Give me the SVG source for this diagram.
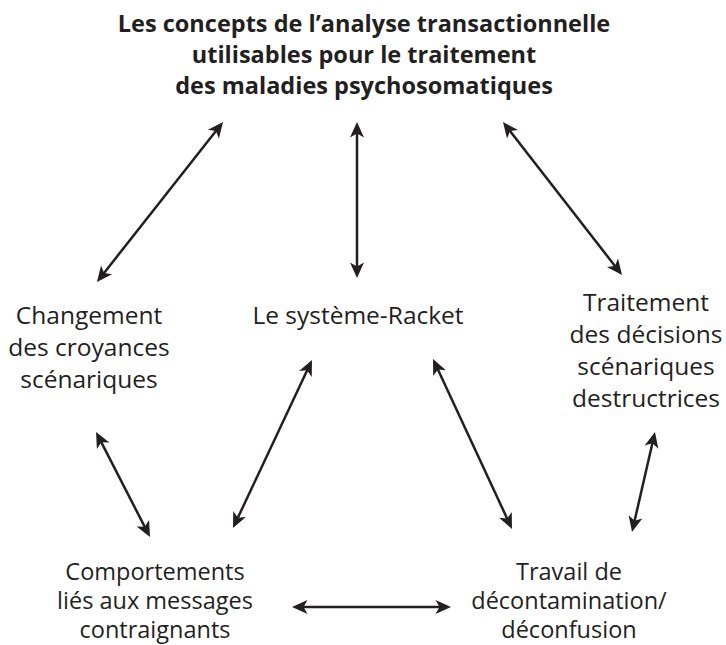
<svg xmlns="http://www.w3.org/2000/svg" width="726" height="645" viewBox="0 0 726 645">
<style>
text{font-family:"Open Sans","Noto Sans",sans-serif;fill:#231f20;text-anchor:middle}
.t{font-size:23.5px;font-weight:bold}
.n{font-size:24.5px}
.b{font-size:23.5px}
.c{stroke:#231f20;stroke-width:2.5;fill:none}
</style>
<defs>
<marker id="ah" markerUnits="userSpaceOnUse" viewBox="-8 -8 18 16" refX="0" refY="0" markerWidth="18" markerHeight="16" orient="auto-start-reverse">
<path d="M8,0 L-7.5,-7 L-3.5,0 L-7.5,7 Z" fill="#231f20"/>
</marker>
</defs>
<rect width="726" height="645" fill="#fff"/>
<g id="title">
<text class="t" x="364" y="32">Les concepts de l’analyse transactionnelle</text>
<text class="t" x="364" y="63">utilisables pour le traitement</text>
<text class="t" x="364" y="94">des maladies psychosomatiques</text>
</g>
<g id="croyances">
<text class="n" x="89" y="324">Changement</text>
<text class="n" x="89" y="356">des croyances</text>
<text class="n" x="89" y="388">scénariques</text>
</g>
<g id="racket">
<text class="n" x="358" y="324">Le système-Racket</text>
</g>
<g id="decisions">
<text class="n" x="646" y="311">Traitement</text>
<text class="n" x="646" y="343">des décisions</text>
<text class="n" x="646" y="375">scénariques</text>
<text class="n" x="646" y="407">destructrices</text>
</g>
<g id="comportements">
<text class="b" x="155" y="580">Comportements</text>
<text class="b" x="155" y="609">liés aux messages</text>
<text class="b" x="155" y="638">contraignants</text>
</g>
<g id="decontamination">
<text class="b" x="569" y="580">Travail de</text>
<text class="b" x="569" y="609">décontamination/</text>
<text class="b" x="569" y="638">déconfusion</text>
</g>
<g id="connectors" class="c">
<line x1="218.1" y1="128.3" x2="101.9" y2="275.7" marker-start="url(#ah)" marker-end="url(#ah)"/>
<line x1="357" y1="130" x2="357" y2="270" marker-start="url(#ah)" marker-end="url(#ah)"/>
<line x1="507.9" y1="128.3" x2="617.1" y2="268.7" marker-start="url(#ah)" marker-end="url(#ah)"/>
<line x1="99.7" y1="439.1" x2="146.3" y2="529.9" marker-start="url(#ah)" marker-end="url(#ah)"/>
<line x1="308.6" y1="367.2" x2="236.4" y2="520.8" marker-start="url(#ah)" marker-end="url(#ah)"/>
<line x1="436.4" y1="366.3" x2="508.6" y2="521.7" marker-start="url(#ah)" marker-end="url(#ah)"/>
<line x1="653.2" y1="439.8" x2="633.8" y2="524.2" marker-start="url(#ah)" marker-end="url(#ah)"/>
<line x1="300" y1="607" x2="443" y2="607" marker-start="url(#ah)" marker-end="url(#ah)"/>
</g>
</svg>
